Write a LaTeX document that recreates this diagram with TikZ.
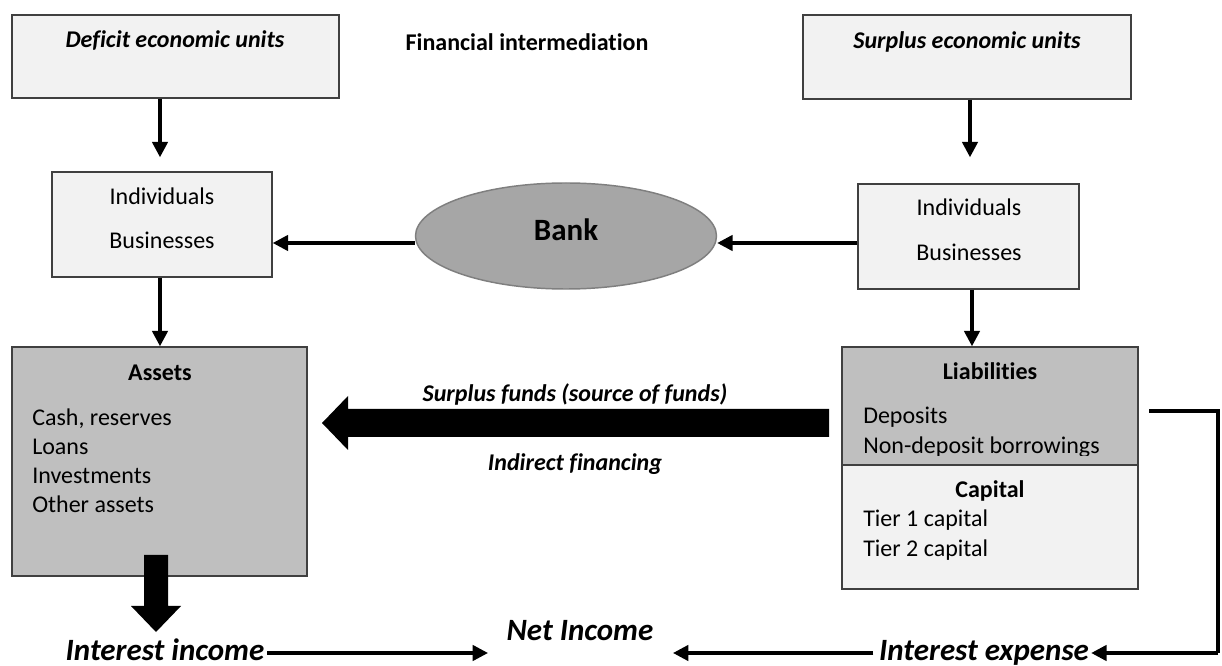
\documentclass[tikz,border=0pt]{standalone}
\usepackage{fontspec}
\setmainfont{Carlito}[Ligatures=NoCommon]
\usetikzlibrary{arrows.meta,shapes.geometric}
\definecolor{boxlight}{HTML}{F2F2F2}
\definecolor{boxgray}{HTML}{BFBFBF}
\definecolor{bankfill}{HTML}{A6A6A6}
\definecolor{bankedge}{HTML}{7F7F7F}
\definecolor{edgecol}{HTML}{404040}
\begin{document}
\begin{tikzpicture}[x=0.75pt,y=-0.75pt,
  box/.style={draw=edgecol,line width=1.1pt,rectangle,inner sep=0pt},
  lightbox/.style={box,fill=boxlight},
  graybox/.style={box,fill=boxgray},
  conn/.style={line width=2.5pt,-{Triangle[length=11.5pt,width=11.5pt]}},
  plain/.style={line width=2.5pt},
  bigarrow/.style={fill=black,draw=none},
  txt/.style={inner sep=0pt,anchor=base,font=\fontsize{18}{22}\selectfont},
  txtl/.style={txt,anchor=base west},
  head/.style={txt,font=\fontsize{18}{22}\selectfont\bfseries},
  headit/.style={txt,font=\fontsize{18}{22}\selectfont\bfseries\itshape},
  bigit/.style={txt,font=\fontsize{23.25}{28}\selectfont\bfseries\itshape},
]
\useasboundingbox (0,0) rectangle (1222,666);
\fill[white] (0,0) rectangle (1222,666);

% top units
\node[lightbox,minimum width=245.25pt,minimum height=62.25pt] (def) at (175.5,56.5) {};
\node[lightbox,minimum width=246pt,minimum height=63pt] (sur) at (967,57) {};
\node[headit] (deft) at (175,48) {Deficit economic units};
\node[headit] (surt) at (967,49) {Surplus economic units};
\node[head] (title) at (527,51) {Financial intermediation};

% individuals / businesses
\node[lightbox,minimum width=165pt,minimum height=78.75pt] (ind1) at (162,224.5) {};
\node[lightbox,minimum width=165.75pt,minimum height=78.75pt] (ind2) at (968.5,236.5) {};
\node[txt] (ind1a) at (162,205) {Individuals};
\node[txt] (ind1b) at (162,249) {Businesses};
\node[txt] (ind2a) at (969,216) {Individuals};
\node[txt] (ind2b) at (969,261) {Businesses};

% bank
\node[ellipse,draw=bankedge,line width=1.1pt,fill=bankfill,minimum width=225.75pt,minimum height=79.5pt,inner sep=0pt] (bank) at (566,236) {};
\node[txt,font=\fontsize{23.25}{28}\selectfont\bfseries] (bankt) at (566,241) {Bank};

% balance sheet: assets
\node[graybox,minimum width=221.25pt,minimum height=171.75pt] (assets) at (159.5,461.5) {};
\node[head] (assetst) at (160,381) {Assets};
\node[txtl] (a1) at (32,426) {Cash, reserves};
\node[txtl] (a2) at (32,455) {Loans};
\node[txtl] (a3) at (32,484) {Investments};
\node[txtl] (a4) at (32,513) {Other assets};

% balance sheet: liabilities and capital
\node[graybox,minimum width=222pt,minimum height=88.5pt] (liab) at (990,406) {};
\node[lightbox,minimum width=222pt,minimum height=93pt] (cap) at (990,527) {};
\node[head] (liabt) at (990,380) {Liabilities};
\node[txtl] (l1) at (863,424) {Deposits};
\begin{scope}
  \clip (842,347) rectangle (1138,456);
  \node[txtl] (l2) at (863,454) {Non-deposit borrowings};
\end{scope}
\node[head] (capt) at (990,498) {Capital};
\node[txtl] (c1) at (863,527) {Tier 1 capital};
\node[txtl] (c2) at (863,557) {Tier 2 capital};

% flow of funds
\node[headit] (surplus) at (575,402) {Surplus funds (source of funds)};
\node[headit] (indirect) at (575,471) {Indirect financing};
\fill[bigarrow] (829,409) -- (348,409) -- (348,396) -- (322,423) -- (348,450) -- (348,437) -- (829,437) -- cycle;
\fill[bigarrow] (144,555) -- (168,555) -- (168,606) -- (181,606) -- (156,632) -- (131,606) -- (144,606) -- cycle;

% income lines
\node[bigit] (ii) at (165,660) {Interest income};
\node[bigit] (ni) at (580,641) {Net Income};
\node[bigit] (ie) at (984,660) {Interest expense};

% connectors
\coordinate (row) at (0,243);
\coordinate (inrow) at (0,653);
\draw[conn] (def.south -| 160,0) -- ([yshift=10.5pt]ind1.north -| 160,0);
\draw[conn] (sur.south -| 970,0) -- ([yshift=19.5pt]ind2.north -| 970,0);
\draw[conn] (ind2.west |- row) -- (bank.east |- row);
\draw[conn] (bank.west |- row) -- (ind1.east |- row);
\draw[conn] (ind1.south -| 160,0) -- (assets.north -| 160,0);
\draw[conn] (ind2.south -| 972,0) -- (liab.north -| 972,0);
\coordinate (niL) at (488,653);
\coordinate (niR) at (673,653);
\draw[conn] ([xshift=2pt]ii.east |- inrow) -- (niL);
\draw[conn] ([xshift=-4pt]ie.west |- inrow) -- (niR);
\coordinate (lbs) at (1149,411);
\coordinate (lbc) at (1218,653);
\draw[plain] (lbs) -| (lbc);
\draw[conn] (lbc) -- ([xshift=1.5pt]ie.east |- inrow);
\end{tikzpicture}
\end{document}
